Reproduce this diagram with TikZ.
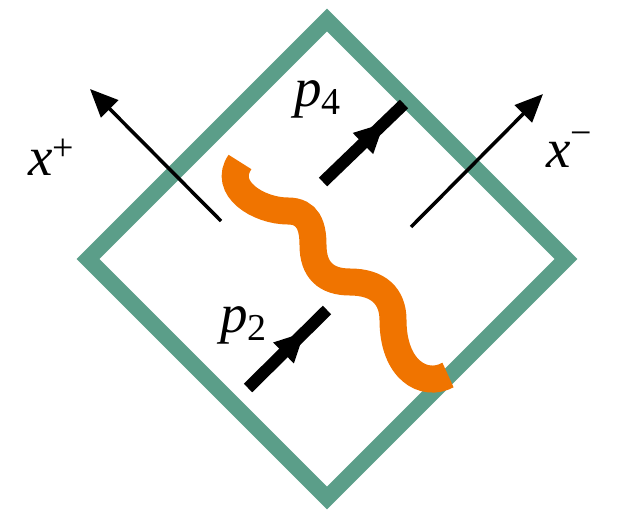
\documentclass[tikz,border=0pt]{standalone}
\usepackage{fontspec}
\setmainfont{Liberation Serif}
\usetikzlibrary{arrows.meta,decorations.markings}
\definecolor{framegreen}{RGB}{91,158,137}
\definecolor{waveorange}{RGB}{240,116,0}
\newcommand\mylblfont{\fontsize{55}{55}\selectfont}
\newcommand\mysubfont{\fontsize{38}{38}\selectfont}
\begin{document}
\begin{tikzpicture}[x=1pt,y=-1pt,
  frameline/.style={draw=framegreen,line width=16pt,line join=miter},
  axisarrow/.style={draw=black,line width=3.5pt,-{Triangle[length=28pt,width=24pt]}},
  momline/.style={draw=black,line width=12pt,line cap=butt,
    postaction={decorate},
    decoration={markings,mark=at position #1 with {\arrow{Triangle[length=30pt,width=27pt]}}}},
  wavepath/.style={draw=waveorange,line width=27pt,line cap=butt},
  lbl/.style={inner sep=0pt,anchor=base west,font=\mylblfont}]
\useasboundingbox (0,0) rectangle (620,511);
% frame
\coordinate (top) at (327,20);
\coordinate (right) at (566,259);
\coordinate (bottom) at (327,498);
\coordinate (left) at (88,259);
\draw[frameline] (top) -- (right) -- (bottom) -- (left) -- cycle;
% axes
\coordinate (xpS) at (221,221);
\coordinate (xpE) at (90,89);
\coordinate (xmS) at (411,227);
\coordinate (xmE) at (543,94);
\draw[axisarrow] (xpS) -- (xpE);
\draw[axisarrow] (xmS) -- (xmE);
% momenta
\coordinate (p4S) at (323,182);
\coordinate (p4E) at (404,104);
\coordinate (p2S) at (248,388);
\coordinate (p2E) at (327,310);
\draw[momline=0.76] (p4S) -- (p4E);
\draw[momline=0.72] (p2S) -- (p2E);
% wave
\coordinate (w0) at (240,162);
\coordinate (w1) at (288,211);
\coordinate (w2) at (313,245);
\coordinate (w3) at (350,282);
\coordinate (w4) at (393,320);
\coordinate (w5) at (448,375);
\draw[wavepath] (w0) .. controls (222,188) and (258,211) .. (w1)
  .. controls (308,211) and (313,226) .. (w2)
  .. controls (313,270) and (326,282) .. (w3)
  .. controls (378,282) and (393,296) .. (w4)
  .. controls (393,370) and (424,388) .. (w5);
% labels
\node[lbl] (xplus) at (28,175) {\itshape x\raisebox{15pt}{\mysubfont\upshape +}};
\node[lbl] (xminus) at (546,167) {\itshape x\raisebox{22pt}{\mysubfont\upshape −}};
\node[lbl] (p4) at (294,106) {\itshape p\raisebox{-8pt}{\mysubfont\upshape 4}};
\node[lbl] (p2) at (220,332) {\itshape p\raisebox{-8pt}{\mysubfont\upshape 2}};
\end{tikzpicture}
\end{document}
